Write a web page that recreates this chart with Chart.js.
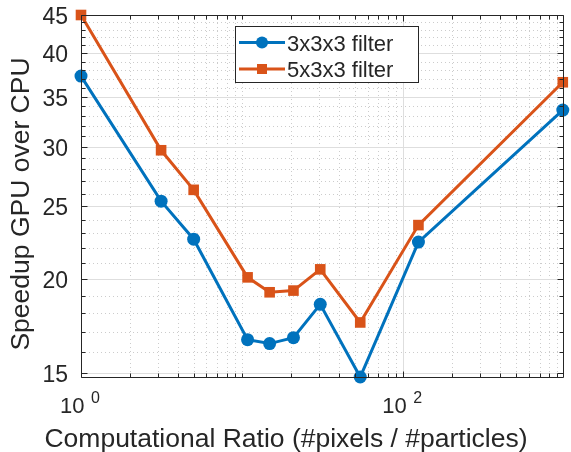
<!DOCTYPE html>
<html>
<head>
<meta charset="utf-8">
<script src="https://cdn.jsdelivr.net/npm/chart.js@4.4.1/dist/chart.umd.min.js"></script>
<style>
	body { margin: 0; background: #fff; }
	canvas { display: block; }
</style>
</head>
<body>
<canvas id="chart" width="571" height="452"></canvas>
<script>
// computational ratio (#pixels / #particles)
const ratios = [1, 3.14, 5.0, 10.8, 14.8, 20.8, 30.5, 54, 124, 975];
const filter3 = [37.3, 25.4, 22.6, 16.6, 16.4, 16.7, 18.5, 14.8, 22.4, 33.6];
const filter5 = [45.0, 29.7, 26.3, 20.1, 19.2, 19.3, 20.6, 17.5, 23.6, 36.6];
const seriesNames = ["3x3x3 filter", "5x3x3 filter"];

const yTicks = [15, 20, 25, 30, 35, 40, 45];
const xTicks = [1, 100];
const xTickExp = ["0", "2"];
const xTitle = "Computational Ratio (#pixels / #particles)";
const yTitle = "Speedup GPU over CPU";

const blue = "#0072BD";
const orange = "#D95319";
const axisColor = "#262626";
const font = "'Liberation Sans', Arial, Helvetica, sans-serif";

function points(ys)
{
	return ratios.map((x, i) => ({x: x, y: ys[i]}));
}

// minor grid positions: every integer on y, 2..9 x 10^n on x
function yMinor(scale)
{
	let out = [];
	for(let v = Math.ceil(scale.min); v <= scale.max; v++)
		if(!yTicks.includes(v))
			out.push(v);
	return out;
}
function xMinor(scale)
{
	let out = [];
	for(let d = 1; d <= 100; d *= 10)
		for(let m = 1; m < 10; m++){
			let v = m * d;
			if(v >= scale.min && v <= scale.max && !xTicks.includes(v))
				out.push(v);
		}
	return out;
}

const matlabAxes = {
	id: "matlabAxes",
	beforeDatasetsDraw(chart){
		const ctx = chart.ctx;
		const a = chart.chartArea;
		const xs = chart.scales.x, ys = chart.scales.y;
		ctx.save();
		ctx.lineWidth = 1;
		// minor dotted grid
		ctx.strokeStyle = "#cccccc";
		ctx.setLineDash([1, 3]);
		ctx.beginPath();
		for(let v of yMinor(ys)){
			let y = Math.round(ys.getPixelForValue(v)) + 0.5;
			ctx.moveTo(a.left, y); ctx.lineTo(a.right, y);
		}
		for(let v of xMinor(xs)){
			let x = Math.round(xs.getPixelForValue(v)) + 0.5;
			ctx.moveTo(x, a.top); ctx.lineTo(x, a.bottom);
		}
		ctx.stroke();
		// major solid grid
		ctx.setLineDash([]);
		ctx.strokeStyle = "#dedede";
		ctx.beginPath();
		for(let v of yTicks){
			let y = Math.round(ys.getPixelForValue(v)) + 0.5;
			ctx.moveTo(a.left, y); ctx.lineTo(a.right, y);
		}
		for(let v of xTicks){
			let x = Math.round(xs.getPixelForValue(v)) + 0.5;
			ctx.moveTo(x, a.top); ctx.lineTo(x, a.bottom);
		}
		ctx.stroke();
		ctx.restore();
	},
	afterDatasetsDraw(chart){
		const ctx = chart.ctx;
		const a = chart.chartArea;
		const xs = chart.scales.x, ys = chart.scales.y;
		ctx.save();
		ctx.strokeStyle = axisColor;
		ctx.lineWidth = 1;
		const L = Math.round(a.left) + 0.5, R = Math.round(a.right) - 0.5;
		const T = Math.round(a.top) + 0.5, B = Math.round(a.bottom) + 0.5;
		ctx.beginPath();
		// inward tick marks on all four sides
		for(let v of yTicks.concat(yMinor(ys))){
			let y = Math.round(ys.getPixelForValue(v)) + 0.5;
			let len = yTicks.includes(v) ? 6 : 4;
			ctx.moveTo(L, y); ctx.lineTo(L + len, y);
			ctx.moveTo(R, y); ctx.lineTo(R - len, y);
		}
		for(let v of xTicks.concat(xMinor(xs))){
			let x = Math.round(xs.getPixelForValue(v)) + 0.5;
			let len = xTicks.includes(v) ? 6 : 4;
			ctx.moveTo(x, B); ctx.lineTo(x, B - len);
			ctx.moveTo(x, T); ctx.lineTo(x, T + len);
		}
		ctx.rect(L, T, R - L, B - T);
		ctx.stroke();

		// tick labels
		ctx.fillStyle = axisColor;
		ctx.font = "23px " + font;
		ctx.textAlign = "right";
		ctx.textBaseline = "alphabetic";
		for(let v of yTicks)
			ctx.fillText(String(v), 68, ys.getPixelForValue(v) + 9);
		ctx.textAlign = "left";
		xTicks.forEach((v, i) => {
			let x = xs.getPixelForValue(v) - 21;
			ctx.font = "22px " + font;
			ctx.fillText("10", x, 413);
			ctx.font = "16px " + font;
			ctx.fillText(xTickExp[i], x + 31, 403);
		});

		// axis titles
		ctx.font = "26.5px " + font;
		ctx.textAlign = "center";
		ctx.fillText(xTitle, 286, 447);
		ctx.save();
		ctx.translate(29, 204);
		ctx.rotate(-Math.PI / 2);
		ctx.fillText(yTitle, 0, 0);
		ctx.restore();

		// legend box
		ctx.fillStyle = "#fff";
		ctx.fillRect(235.5, 26.5, 183, 56);
		ctx.strokeStyle = axisColor;
		ctx.strokeRect(235.5, 26.5, 183, 56);
		chart.data.datasets.forEach((ds, i) => {
			let y = 42.5 + i * 26.5;
			ctx.strokeStyle = ds.borderColor;
			ctx.lineWidth = 3;
			ctx.beginPath();
			ctx.moveTo(239, y); ctx.lineTo(285, y);
			ctx.stroke();
			ctx.fillStyle = ds.borderColor;
			if(ds.pointStyle == "rect")
				ctx.fillRect(262 - 5, y - 5, 10, 10);
			else{
				ctx.beginPath();
				ctx.arc(262, y, 6, 0, Math.PI * 2);
				ctx.fill();
			}
			ctx.fillStyle = axisColor;
			ctx.font = "22px " + font;
			ctx.textAlign = "left";
			ctx.fillText(seriesNames[i], 287, y + 8);
		});
		ctx.restore();
	}
};

let graph = document.getElementById("chart").getContext("2d");
let myChart = new Chart(graph, {
	type: "line",
	data: {
		datasets: [{
			label: seriesNames[0],
			data: points(filter3),
			borderColor: blue,
			backgroundColor: blue,
			borderWidth: 3,
			pointStyle: "circle",
			pointRadius: 6.5,
			pointBorderWidth: 0,
			clip: false
		}, {
			label: seriesNames[1],
			data: points(filter5),
			borderColor: orange,
			backgroundColor: orange,
			borderWidth: 3,
			pointStyle: "rect",
			pointRadius: 7.5,
			pointBorderWidth: 0,
			clip: false
		}]
	},
	options: {
		responsive: false,
		animation: false,
		devicePixelRatio: 1,
		layout: {padding: {top: 15, right: 1, left: 0, bottom: 0}},
		plugins: {
			legend: {display: false},
			tooltip: {enabled: false}
		},
		scales: {
			x: {
				type: "logarithmic",
				min: 1,
				max: 985,
				grid: {display: false},
				border: {display: false},
				ticks: {display: false},
				afterFit: scale => { scale.height = 75; }
			},
			y: {
				type: "logarithmic",
				min: 14.8,
				max: 45,
				grid: {display: false},
				border: {display: false},
				ticks: {display: false},
				afterFit: scale => { scale.width = 81; }
			}
		}
	},
	plugins: [matlabAxes]
});
</script>
</body>
</html>
